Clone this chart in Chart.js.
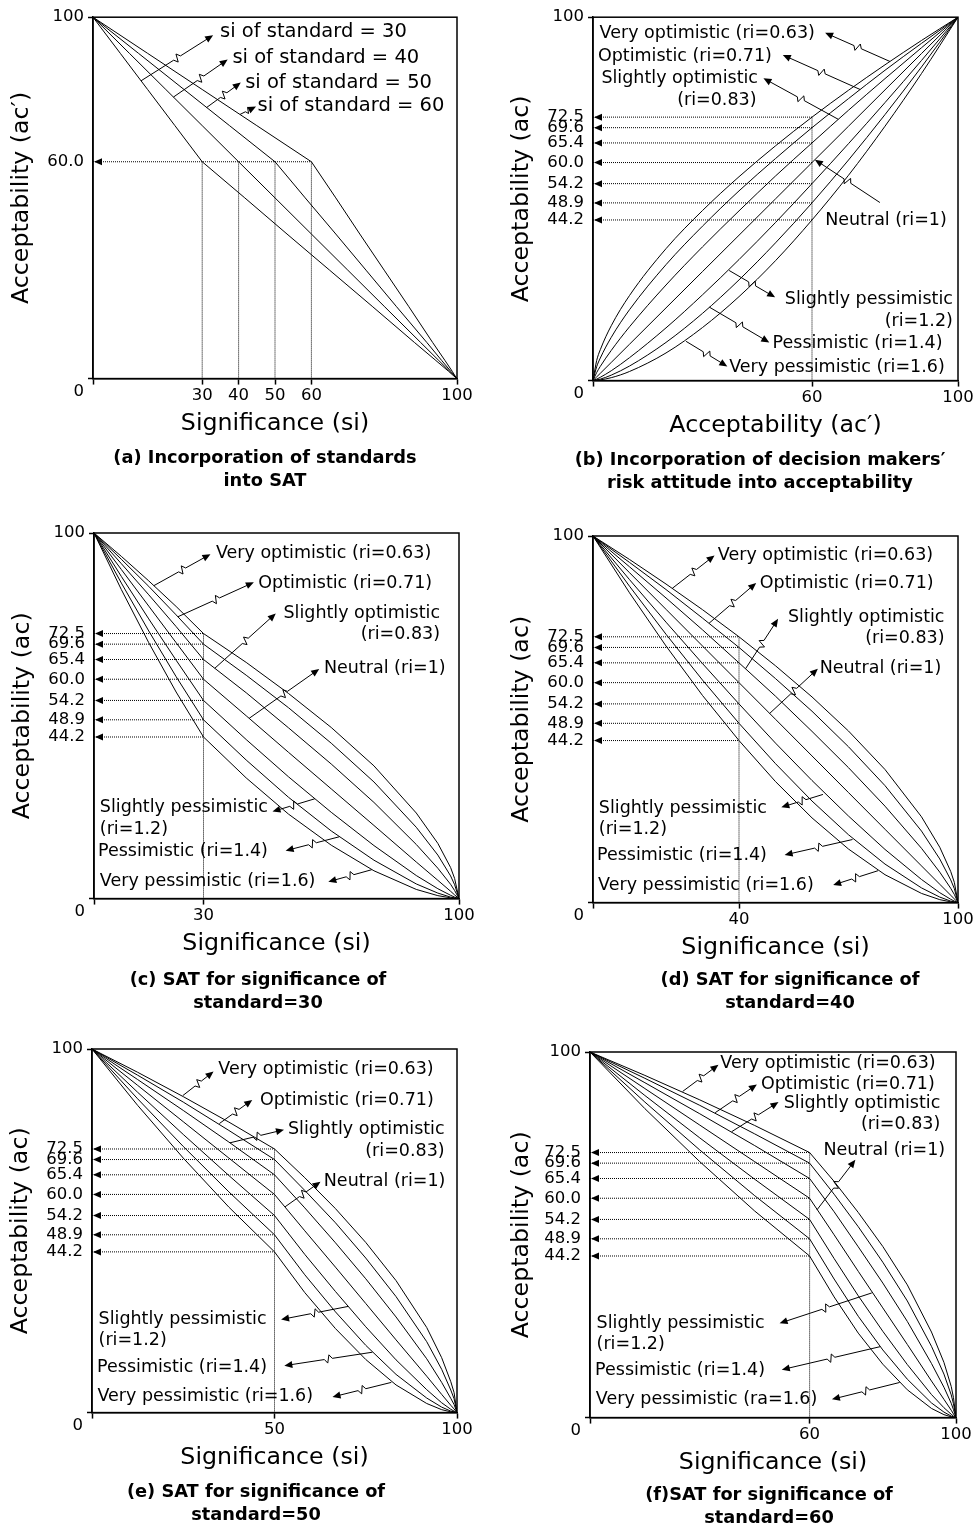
<!DOCTYPE html>
<html>
<head>
<meta charset="utf-8">
<title>SAT charts</title>
<script src="https://cdn.jsdelivr.net/npm/chart.js@4.4.1/dist/chart.umd.min.js"></script>
<style>
  html, body { margin: 0; padding: 0; background: #fff; overflow: hidden; }
  body { position: relative; width: 978px; height: 1532px; }
  canvas { position: absolute; }
</style>
</head>
<body>
<script>
var FONT = "'DejaVu Sans', 'Liberation Sans', Arial, sans-serif";
var X_AXIS_H = 60;
Chart.defaults.font.family = FONT;
Chart.defaults.color = '#000';

// ac' levels of the SAT, top to bottom (shared by every curve)
var acPrimeLevels = [100, 90, 80, 70, 60, 50, 40, 30, 20, 10, 5, 2, 1, 0];

// significance (si) where each ac' level is reached, per standard
var siStandard30 = [0, 7.5, 15, 22.5, 30, 41.7, 53.3, 65, 76.7, 88.3, 94.2, 97.7, 98.8, 100];
var siStandard40 = [0, 10, 20, 30, 40, 50, 60, 70, 80, 90, 95, 98, 99, 100];
var siStandard50 = [0, 12.5, 25, 37.5, 50, 58.3, 66.7, 75, 83.3, 91.7, 95.8, 98.3, 99.2, 100];
var siStandard60 = [0, 15, 30, 45, 60, 66.7, 73.3, 80, 86.7, 93.3, 96.7, 98.7, 99.3, 100];

// risk adjusted acceptability (ac) at each ac' level
var acVeryOptimistic   = [100, 93.6, 86.9, 79.9, 72.5, 64.6, 56.1, 46.8, 36.3, 23.4, 15.1, 8.5, 5.5, 0];
var acOptimistic       = [100, 92.8, 85.4, 77.6, 69.6, 61.1, 52.2, 42.5, 31.9, 19.5, 11.9, 6.2, 3.8, 0];
var acSlightOptimistic = [100, 91.6, 83.1, 74.4, 65.4, 56.3, 46.7, 36.8, 26.3, 14.8, 8.3, 3.9, 2.2, 0];
var acNeutral          = [100, 90, 80, 70, 60, 50, 40, 30, 20, 10, 5, 2, 1, 0];
var acSlightPessimistic= [100, 88.1, 76.5, 65.2, 54.2, 43.5, 33.3, 23.6, 14.5, 6.3, 2.7, 0.9, 0.4, 0];
var acPessimistic      = [100, 86.3, 73.2, 60.7, 48.9, 37.9, 27.7, 18.5, 10.5, 4.0, 1.5, 0.4, 0.2, 0];
var acVeryPessimistic  = [100, 84.5, 70.0, 56.5, 44.2, 33.0, 23.1, 14.6, 7.6, 2.5, 0.8, 0.2, 0.1, 0];

var riskCurves = [acVeryOptimistic, acOptimistic, acSlightOptimistic, acNeutral,
                  acSlightPessimistic, acPessimistic, acVeryPessimistic];
var standards = [30, 40, 50, 60];
var acAtStandard = [72.5, 69.6, 65.4, 60.0, 54.2, 48.9, 44.2];
var yTicksSat = [0, 44.2, 48.9, 54.2, 60, 65.4, 69.6, 72.5, 100];

function pts(xs, ys) {
  return xs.map(function (x, i) { return { x: x, y: ys[i] }; });
}
function hGuides(xEnd) { return acAtStandard.map(function (v) { return [v, xEnd]; }); }

var riskLabels = function (last) {
  return ['Very optimistic (ri=0.63)', 'Optimistic (ri=0.71)', 'Slightly optimistic', '(ri=0.83)',
          'Neutral (ri=1)', 'Slightly pessimistic', '(ri=1.2)', 'Pessimistic (ri=1.4)', last || 'Very pessimistic (ri=1.6)'];
};

var panels = [
  { box: [0, 0, 530], plot: [93, 14, 457, 378], capPad: 8.5, yTitlePad: 7.8, labelSize: 19.5,
    xTitle: 'Significance (si)', yTitle: 'Acceptability (ac\u2032)',
    caption: ['(a) Incorporation of standards', 'into SAT'],
    xTicks: [0, 30, 40, 50, 60, 100], yTicks: [0, 60, 100],
    curves: [siStandard30, siStandard40, siStandard50, siStandard60].map(function (s) { return pts(s, acPrimeLevels); }),
    hGuides: [[60, 60]], vGuides: standards.map(function (s) { return [s, 60]; }),
    labels: [['si of standard = 30', 34.9, 95.8], ['si of standard = 40', 38.3, 88.7],
             ['si of standard = 50', 41.8, 81.9], ['si of standard = 60', 45.2, 75.5]],
    callouts: [[13.2, 82.4, 33.0, 95.0], [22.1, 77.9, 37.0, 88.3], [31.2, 75.0, 40.6, 81.9], [40.4, 73.1, 44.8, 75.3]] },

  { box: [490, 0, 540], plot: [593, 16, 958, 380], capPad: 8.5, yTitlePad: 17.5, labelSize: 17.5, smooth: true,
    xTitle: 'Acceptability (ac\u2032)', yTitle: 'Acceptability (ac)',
    caption: ['(b) Incorporation of decision makers\u2032', 'risk attitude into acceptability'],
    xTicks: [0, 60, 100], yTicks: yTicksSat,
    curves: riskCurves.map(function (r) { return pts(acPrimeLevels, r); }),
    hGuides: hGuides(60), vGuides: [[60, 72.5]],
    labels: (function (t) { return [[t[0], 60.8, 95.5, 'right'], [t[1], 49.0, 89.3, 'right'], [t[2], 45.2, 83.2, 'right'],
             [t[3], 44.8, 77.2, 'right'], [t[4], 63.6, 44.0], [t[5], 98.6, 22.2, 'right'], [t[6], 98.6, 16.3, 'right'],
             [t[7], 49.2, 10.1], [t[8], 37.3, 3.7]]; })(riskLabels()),
    callouts: [[81.4, 87.8, 63.6, 95.7], [73.2, 80.1, 52.0, 89.6], [67.2, 71.9, 46.7, 83.2], [78.6, 49.0, 60.8, 60.8],
               [37.3, 30.3, 49.9, 22.9], [31.9, 20.2, 48.3, 10.5], [25.5, 10.8, 36.8, 3.9]] },

  { box: [0, 505, 516], plot: [94, 533, 459, 898], capPad: 10.5, yTitlePad: 8.3, labelSize: 17.5,
    xTitle: 'Significance (si)', yTitle: 'Acceptability (ac)',
    caption: ['(c) SAT for significance of', 'standard=30'],
    xTicks: [0, 30, 100], yTicks: yTicksSat,
    curves: riskCurves.map(function (r) { return pts(siStandard30, r); }),
    hGuides: hGuides(30), vGuides: [[30, 72.5]],
    labels: (function (t) { return [[t[0], 33.4, 94.5], [t[1], 45.0, 86.3], [t[2], 94.8, 78.0, 'right'], [t[3], 94.8, 72.3, 'right'],
             [t[4], 63.0, 62.9], [t[5], 1.6, 24.8], [t[6], 1.6, 19.0], [t[7], 1.1, 12.8], [t[8], 1.6, 4.8]]; })(riskLabels()),
    callouts: [[16.4, 85.6, 31.9, 94.2], [23.0, 77.1, 43.8, 86.5], [33.1, 63.0, 49.8, 78.0], [42.5, 49.3, 61.7, 62.8],
               [60.5, 27.3, 48.9, 23.8], [67.2, 16.9, 52.5, 13.1], [76.1, 7.9, 64.2, 4.6]] },

  { box: [490, 505, 600], plot: [593, 536, 958, 902], capPad: 6.5, yTitlePad: 17.5, labelSize: 17.5,
    xTitle: 'Significance (si)', yTitle: 'Acceptability (ac)',
    caption: ['(d) SAT for significance of', 'standard=40'],
    xTicks: [0, 40, 100], yTicks: yTicksSat,
    curves: riskCurves.map(function (r) { return pts(siStandard40, r); }),
    hGuides: hGuides(40), vGuides: [[40, 72.5]],
    labels: (function (t) { return [[t[0], 34.2, 94.7], [t[1], 45.7, 87.0], [t[2], 96.3, 77.9, 'right'], [t[3], 96.3, 72.0, 'right'],
             [t[4], 62.1, 63.8], [t[5], 1.6, 25.8], [t[6], 1.6, 20.0], [t[7], 1.1, 12.8], [t[8], 1.4, 4.8]]; })(riskLabels()),
    callouts: [[21.7, 85.7, 33.3, 94.7], [31.8, 76.2, 44.7, 87.2], [41.8, 63.8, 50.7, 77.4], [48.4, 51.6, 61.6, 63.8],
               [63.0, 29.5, 51.6, 26.0], [71.1, 17.2, 52.5, 13.0], [78.1, 8.7, 65.8, 4.8]] },

  { box: [0, 1020, 512], plot: [92, 1049, 457, 1412], capPad: 8.5, yTitlePad: 6.6, labelSize: 17.5,
    xTitle: 'Significance (si)', yTitle: 'Acceptability (ac)',
    caption: ['(e) SAT for significance of', 'standard=50'],
    xTicks: [0, 50, 100], yTicks: yTicksSat,
    curves: riskCurves.map(function (r) { return pts(siStandard50, r); }),
    hGuides: hGuides(50), vGuides: [[50, 72.5]],
    labels: (function (t) { return [[t[0], 34.6, 94.3], [t[1], 46.0, 85.9], [t[2], 96.6, 77.8, 'right'], [t[3], 96.6, 71.8, 'right'],
             [t[4], 63.5, 63.7], [t[5], 1.8, 25.6], [t[6], 1.8, 19.9], [t[7], 1.4, 12.4], [t[8], 1.5, 4.5]]; })(riskLabels()),
    callouts: [[24.9, 87.2, 33.3, 93.8], [34.9, 79.5, 43.9, 86.0], [37.8, 74.2, 52.6, 77.8], [52.9, 56.6, 62.6, 63.5],
               [70.2, 29.2, 51.8, 25.6], [76.8, 16.6, 52.7, 12.9], [82.0, 8.3, 65.9, 4.3]] },

  { box: [490, 1020, 558], plot: [590, 1052, 956, 1417], capPad: 6.5, yTitlePad: 17.5, labelSize: 17.5,
    xTitle: 'Significance (si)', yTitle: 'Acceptability (ac)',
    caption: ['(f)SAT for significance of', 'standard=60'],
    xTicks: [0, 60, 100], yTicks: yTicksSat,
    curves: riskCurves.map(function (r) { return pts(siStandard60, r); }),
    hGuides: hGuides(60), vGuides: [[60, 72.5]],
    labels: (function (t) { return [[t[0], 35.6, 96.8], [t[1], 46.7, 91.1], [t[2], 95.7, 86.0, 'right'], [t[3], 95.7, 80.1, 'right'],
             [t[4], 63.8, 73.2], [t[5], 1.8, 25.8], [t[6], 1.8, 20.1], [t[7], 1.4, 12.8], [t[8], 1.6, 5.0]]; })(riskLabels('Very pessimistic (ra=1.6)')),
    callouts: [[25.3, 89.2, 35.1, 96.5], [34.2, 83.4, 45.6, 91.1], [38.7, 78.2, 51.5, 86.3], [62.0, 56.8, 72.5, 70.5],
               [77.0, 34.1, 51.8, 25.8], [79.3, 19.4, 52.4, 13.1], [84.6, 9.6, 66.1, 5.0]] }
];

// filled arrow head, tip at (x, y), pointing along ang
function arrowHead(ctx, x, y, ang) {
  var len = 8, half = 3.5, c = Math.cos(ang), s = Math.sin(ang);
  ctx.beginPath();
  ctx.moveTo(x, y);
  ctx.lineTo(x - len * c - half * s, y - len * s + half * c);
  ctx.lineTo(x - len * c + half * s, y - len * s - half * c);
  ctx.closePath();
  ctx.fill();
}

// leader line with a small zigzag break and an arrow at the end
function callout(ctx, x0, y0, x1, y1) {
  var dx = x1 - x0, dy = y1 - y0, d = Math.hypot(dx, dy);
  var ux = dx / d, uy = dy / d, nx = -uy, ny = ux;
  var mx = (x0 + x1) / 2, my = (y0 + y1) / 2;
  var z = Math.min(4, d / 6);
  ctx.beginPath();
  ctx.moveTo(x0, y0);
  ctx.lineTo(mx - z * ux, my - z * uy);
  ctx.lineTo(mx - 0.3 * z * ux + z * nx, my - 0.3 * z * uy + z * ny);
  ctx.lineTo(mx + 0.3 * z * ux - z * nx, my + 0.3 * z * uy - z * ny);
  ctx.lineTo(mx + z * ux, my + z * uy);
  ctx.lineTo(x1 - 6 * ux, y1 - 6 * uy);
  ctx.stroke();
  arrowHead(ctx, x1, y1, Math.atan2(dy, dx));
}

function overlay(p) {
  return {
    id: 'overlay',
    afterDraw: function (chart) {
      var ctx = chart.ctx, a = chart.chartArea, xs = chart.scales.x, ys = chart.scales.y;
      ctx.save();
      ctx.strokeStyle = '#000';
      ctx.fillStyle = '#000';
      ctx.lineWidth = 1.5;
      ctx.strokeRect(a.left, a.top, a.right - a.left, a.bottom - a.top);

      p.hGuides.forEach(function (g) {
        arrowHead(ctx, xs.getPixelForValue(0) + 1, ys.getPixelForValue(g[0]), Math.PI);
      });

      ctx.lineWidth = 1;
      p.callouts.forEach(function (c) {
        callout(ctx, xs.getPixelForValue(c[0]), ys.getPixelForValue(c[1]),
                     xs.getPixelForValue(c[2]), ys.getPixelForValue(c[3]));
      });

      ctx.font = p.labelSize + 'px ' + FONT;
      ctx.textBaseline = 'middle';
      p.labels.forEach(function (l) {
        ctx.textAlign = l[3] || 'left';
        ctx.fillText(l[0], xs.getPixelForValue(l[1]), ys.getPixelForValue(l[2]));
      });
      ctx.restore();
    }
  };
}

panels.forEach(function (p) {
  var L = p.box[0], T = p.box[1], W = p.box[2];
  var left = p.plot[0], top = p.plot[1], right = p.plot[2], bottom = p.plot[3];
  var H = Math.round(bottom - T + X_AXIS_H + 46 + p.capPad + 4);

  var canvas = document.createElement('canvas');
  canvas.width = W;
  canvas.height = H;
  canvas.style.left = L + 'px';
  canvas.style.top = T + 'px';
  document.body.appendChild(canvas);

  var datasets = p.curves.map(function (c) {
    return { data: c, showLine: true, borderColor: '#000', borderWidth: 1, pointRadius: 0,
             cubicInterpolationMode: p.smooth ? 'monotone' : 'default', tension: 0 };
  });
  function dotted(data) {
    return { data: data, showLine: true, borderColor: '#000', borderWidth: 1, borderDash: [1, 1], pointRadius: 0 };
  }
  p.hGuides.forEach(function (g) { datasets.push(dotted([{ x: 0, y: g[0] }, { x: g[1], y: g[0] }])); });
  p.vGuides.forEach(function (g) { datasets.push(dotted([{ x: g[0], y: 0 }, { x: g[0], y: g[1] }])); });

  new Chart(canvas, {
    type: 'scatter',
    data: { datasets: datasets },
    plugins: [overlay(p)],
    options: {
      responsive: false,
      animation: false,
      events: [],
      layout: { padding: { left: 0, right: 0, top: top - T, bottom: 4 } },
      plugins: {
        legend: { display: false },
        tooltip: { enabled: false },
        title: {
          display: true, position: 'bottom', text: p.caption, color: '#000',
          font: { size: 17.8, weight: 'bold', lineHeight: 1.29 },
          padding: { top: p.capPad, bottom: 0 }
        }
      },
      scales: {
        x: {
          type: 'linear', min: 0, max: 100,
          afterBuildTicks: function (s) { s.ticks = p.xTicks.map(function (v) { return { value: v }; }); },
          afterFit: function (s) { s.height = X_AXIS_H; },
          ticks: {
            autoSkip: false, maxRotation: 0, padding: 1,
            font: { size: 16.5, lineHeight: 1.2 },
            callback: function (v) { return v === 0 ? '' : String(v); }
          },
          grid: { drawOnChartArea: false, tickLength: 6, tickColor: '#000', tickWidth: 1.5 },
          border: { color: '#000', width: 1.5 },
          title: { display: true, text: p.xTitle, font: { size: 23.7 }, padding: { top: 0, bottom: 0.8 } }
        },
        y: {
          type: 'linear', min: 0, max: 100,
          afterBuildTicks: function (s) { s.ticks = p.yTicks.map(function (v) { return { value: v }; }); },
          afterFit: function (s) { s.width = left - L; },
          ticks: {
            autoSkip: false, padding: 4,
            font: { size: 16.5, lineHeight: 1.6 },
            callback: function (v) { return v === 0 ? ['', '0'] : (v === 100 ? '100' : v.toFixed(1)); }
          },
          grid: {
            drawOnChartArea: false, tickLength: 5, tickWidth: 1.5,
            tickColor: function (c) {
              return (c.tick && (c.tick.value === 0 || c.tick.value === 100)) ? '#000' : 'rgba(0,0,0,0)';
            }
          },
          border: { color: '#000', width: 1.5 },
          title: { display: true, text: p.yTitle, font: { size: 23.7 }, padding: { top: p.yTitlePad, bottom: 0 } }
        },
        y2: {
          type: 'linear', position: 'right', display: true,
          ticks: { display: false }, grid: { display: false }, border: { display: false },
          afterFit: function (s) { s.width = L + W - right; }
        }
      }
    }
  });
});
</script>
</body>
</html>
